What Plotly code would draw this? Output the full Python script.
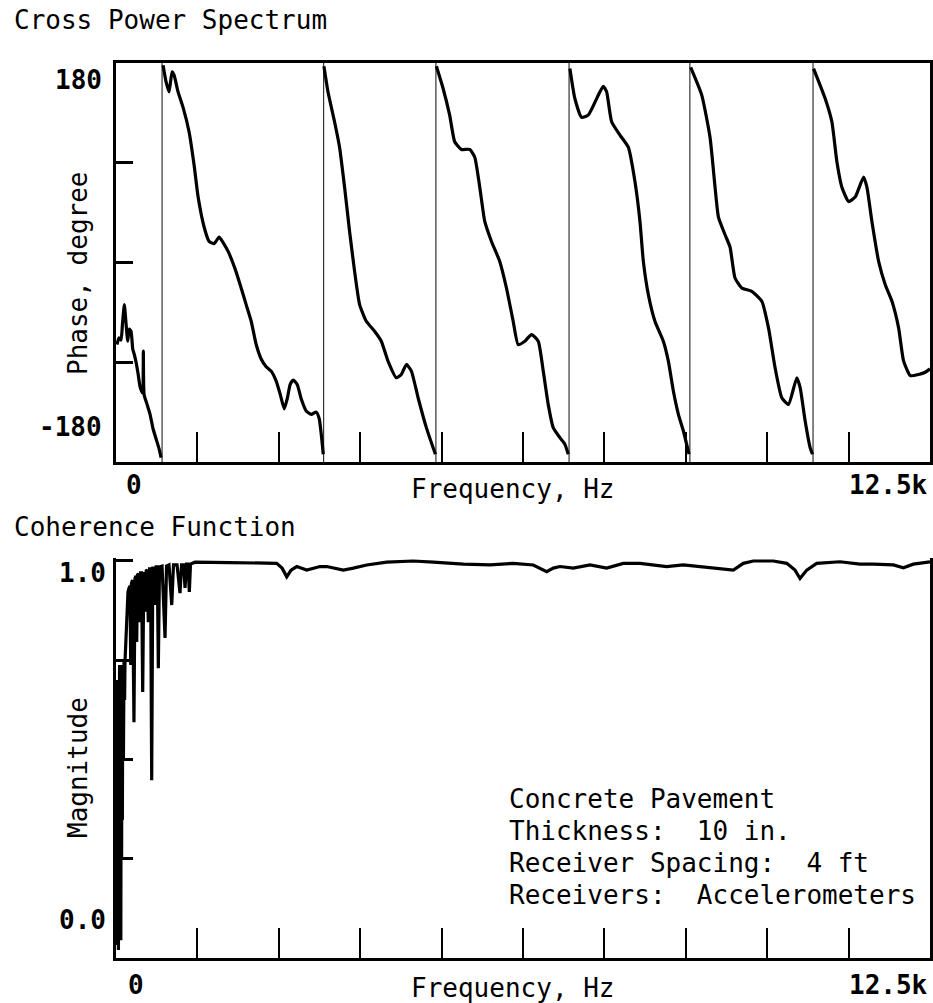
import plotly.graph_objects as go

# ---------------- data ----------------
# Cross power spectrum phase (wrapped), one list per wrap cycle: frequency (Hz), phase (deg)
seg0_freq = [15, 46, 77, 100, 128, 154, 180, 204, 231, 257, 281, 308, 338, 369, 392, 410, 420, 431, 477, 523, 569, 615, 661, 692]
seg0_phase = [-74, -68, -70, -55, -38, -55, -71, -60, -62, -78, -83, -90, -100, -112, -116, -118, -80, -119, -128, -137, -150, -159, -168, -176]

seg1_freq = [723, 769, 815, 861, 892, 953, 1030, 1122, 1199, 1261, 1353, 1430, 1507, 1584, 1645, 1722, 1830, 1922, 1999,
             2076, 2153, 2229, 2306, 2383, 2460, 2522, 2583, 2629, 2675, 2721, 2783, 2844, 2921, 2998, 3075, 3121, 3152, 3183]
seg1_phase = [178, 163, 154, 172, 169, 154, 140, 118, 88, 59, 32, 19, 17, 23, 18, 10, -6, -23, -38,
              -53, -74, -87, -94, -98, -107, -119, -132, -123, -110, -106, -110, -123, -134, -137, -135, -141, -155, -173]

seg2_freq = [3193, 3255, 3356, 3433, 3510, 3587, 3664, 3741, 3844, 3971, 4074, 4177, 4305, 4382, 4459, 4536, 4639, 4766, 4869, 4905]
seg2_phase = [177, 154, 127, 104, 68, 28, -8, -38, -53, -62, -71, -89, -104, -101, -92, -98, -122, -149, -167, -173]

seg3_freq = [4920, 5023, 5124, 5201, 5304, 5432, 5509, 5586, 5663, 5766, 5893, 5996, 6099, 6176, 6278, 6381, 6484, 6561, 6637, 6714, 6816, 6893, 6945]
seg3_phase = [177, 157, 133, 109, 102, 102, 95, 68, 37, 19, 1, -23, -53, -74, -71, -65, -71, -98, -128, -149, -158, -164, -173]

seg4_freq = [6970, 7046, 7149, 7252, 7406, 7483, 7534, 7611, 7738, 7867, 7969, 8046, 8098, 8175, 8276, 8405, 8482, 8559, 8636, 8713, 8800]
seg4_phase = [175, 148, 131, 133, 151, 159, 154, 127, 115, 104, 73, 37, 1, -29, -53, -71, -89, -116, -137, -152, -173]

seg5_freq = [8825, 8995, 9122, 9199, 9251, 9353, 9429, 9506, 9609, 9763, 9917, 10020, 10121, 10224, 10327, 10455, 10506, 10583, 10659, 10696]
seg5_phase = [176, 151, 113, 68, 41, 25, 14, -14, -23, -26, -35, -59, -95, -122, -128, -104, -113, -143, -167, -173]

seg6_freq = [10712, 10890, 10993, 11070, 11147, 11250, 11351, 11480, 11531, 11608, 11711, 11813, 11916, 12018, 12095, 12197, 12326, 12428, 12500]
seg6_phase = [175, 148, 127, 91, 68, 55, 59, 77, 68, 37, 1, -20, -35, -59, -89, -102, -101, -99, -96]

# Coherence function: frequency (Hz), magnitude
coh_freq = [0, 6, 12, 18, 25, 31, 37, 43, 49, 55, 61, 68, 74, 80, 86, 92, 98, 104, 114, 123, 132, 138, 154, 169, 184,
            200, 215, 226, 236, 253, 276, 292, 307, 318, 330, 346, 358, 376, 392, 410, 427, 445, 464, 479, 496, 515,
            531, 548, 565, 584, 599, 617, 634, 650, 668, 707, 753, 776, 814, 856, 883, 937, 983, 1006, 1037, 1060,
            1083, 1106, 1126, 1144, 1213, 1751, 2468, 2550, 2622, 2688, 2776, 2929, 3133, 3236, 3491, 3645, 3850,
            4157, 4566, 4873, 5334, 5743, 6101, 6408, 6562, 6614, 6715, 6818, 7022, 7279, 7535, 7790, 8046, 8456,
            8711, 8968, 9275, 9480, 9633, 9787, 10094, 10300, 10427, 10504, 10607, 10760, 11118, 11425, 11630,
            11937, 12091, 12244, 12500]
coh_value = [0.071, 0.650, 0.033, 0.700, 0.058, 0.499, 0.020, 0.650, 0.096, 0.738, 0.171, 0.600, 0.045, 0.700, 0.247,
             0.650, 0.348, 0.738, 0.499, 0.746, 0.650, 0.746, 0.801, 0.877, 0.922, 0.932, 0.937, 0.738, 0.942, 0.952,
             0.594, 0.957, 0.962, 0.796, 0.965, 0.967, 0.846, 0.970, 0.970, 0.670, 0.972, 0.872, 0.975, 0.977, 0.846,
             0.980, 0.980, 0.448, 0.982, 0.982, 0.889, 0.985, 0.985, 0.730, 0.985, 0.987, 0.806, 0.987, 0.990, 0.889,
             0.990, 0.990, 0.919, 0.990, 0.990, 0.932, 0.992, 0.992, 0.922, 0.992, 0.997, 0.996, 0.994, 0.982, 0.960,
             0.977, 0.986, 0.977, 0.986, 0.986, 0.977, 0.982, 0.990, 0.997, 1.000, 0.997, 0.992, 0.990, 0.994, 0.990,
             0.977, 0.973, 0.982, 0.986, 0.982, 0.990, 0.982, 0.994, 0.994, 0.986, 0.990, 0.986, 0.982, 0.977, 0.994,
             1.000, 1.000, 0.994, 0.977, 0.956, 0.977, 0.994, 0.998, 0.992, 0.992, 0.990, 0.983, 0.992, 0.998]

freq_ticks = [1250, 2500, 3750, 5000, 6250, 7500, 8750, 10000, 11250]
phase_ticks = [-90, 0, 90]
coh_ticks = [0.25, 0.5, 0.75, 1.0]

info_lines = ["Concrete Pavement", "Thickness:\u00a0 10 in.", "Receiver Spacing:\u00a0 4 ft", "Receivers:\u00a0 Accelerometers"]

# ---------------- build ----------------
W, H = 933, 1003
FONT = "DejaVu Sans Mono"

segments = [(seg0_freq, seg0_phase), (seg1_freq, seg1_phase), (seg2_freq, seg2_phase), (seg3_freq, seg3_phase),
            (seg4_freq, seg4_phase), (seg5_freq, seg5_phase), (seg6_freq, seg6_phase)]

px_, py_ = [], []
for f, p in segments:
    px_ += f + [None]
    py_ += p + [None]

wx, wy = [], []
for k in range(len(segments) - 1):
    xw = (segments[k][0][-1] + segments[k + 1][0][0]) / 2
    wx += [xw, xw, None]
    wy += [-180, 180, None]

fig = go.Figure()
fig.add_trace(go.Scatter(x=wx, y=wy, mode="lines", line=dict(color="#333333", width=1.2),
                         xaxis="x", yaxis="y", showlegend=False, hoverinfo="skip"))
fig.add_trace(go.Scatter(x=px_, y=py_, mode="lines", line=dict(color="black", width=3.2, shape="spline", smoothing=0.5),
                         xaxis="x", yaxis="y", showlegend=False))
fig.add_trace(go.Scatter(x=coh_freq, y=coh_value, mode="lines", line=dict(color="black", width=3.2),
                         xaxis="x2", yaxis="y2", showlegend=False))

def px(x):
    return x / W

def py(y):
    return 1 - y / H

xdom = [px(116), px(930)]
axis_common = dict(showgrid=False, zeroline=False, linecolor="black", linewidth=3,
                   ticks="inside", tickcolor="black", showticklabels=False)

fig.update_layout(
    width=W, height=H, margin=dict(l=0, r=0, t=0, b=0),
    paper_bgcolor="white", plot_bgcolor="white",
    font=dict(family=FONT, color="black"),
    xaxis=dict(domain=xdom, range=[0, 12500], anchor="y", mirror=True, tickvals=freq_ticks,
               ticklen=30, tickwidth=1.5, **axis_common),
    yaxis=dict(domain=[py(462), py(63)], range=[-180, 180], anchor="x", mirror=True, tickvals=phase_ticks,
               ticklen=17, tickwidth=2.5, **axis_common),
    xaxis2=dict(domain=xdom, range=[0, 12500], anchor="y2", mirror=False, tickvals=freq_ticks,
                ticklen=30, tickwidth=1.5, **axis_common),
    yaxis2=dict(domain=[py(958), py(557.8)], range=[0, 1.008], anchor="x2", mirror=True, tickvals=coh_ticks,
                ticklen=17, tickwidth=2.5, **axis_common),
)

def ann(text, x, y, xanchor="center", size=26, bold=False, angle=0):
    fig.add_annotation(text=("<b>%s</b>" % text) if bold else text, x=px(x), y=py(y), xref="paper", yref="paper",
                       xanchor=xanchor, yanchor="middle", showarrow=False, textangle=angle,
                       font=dict(family=FONT, size=size, color="black"))

ann("Cross Power Spectrum", 12, 20, xanchor="left")
ann("Phase, degree", 78, 273, angle=-90)
ann("180", 104, 80, xanchor="right", bold=True)
ann("-180", 104, 427, xanchor="right", bold=True)
ann("0", 134, 485, bold=True)
ann("Frequency, Hz", 513, 489)
ann("12.5k", 930, 485, xanchor="right", bold=True)

ann("Coherence Function", 12, 527, xanchor="left")
ann("Magnitude", 78, 768, angle=-90)
ann("1.0", 108, 573, xanchor="right", bold=True)
ann("0.0", 108, 920, xanchor="right", bold=True)
ann("0", 136, 985, bold=True)
ann("Frequency, Hz", 513, 988)
ann("12.5k", 930, 985, xanchor="right", bold=True)

for i, line in enumerate(info_lines):
    ann(line, 507, 799 + i * 32, xanchor="left")

fig.write_html("out.html")
